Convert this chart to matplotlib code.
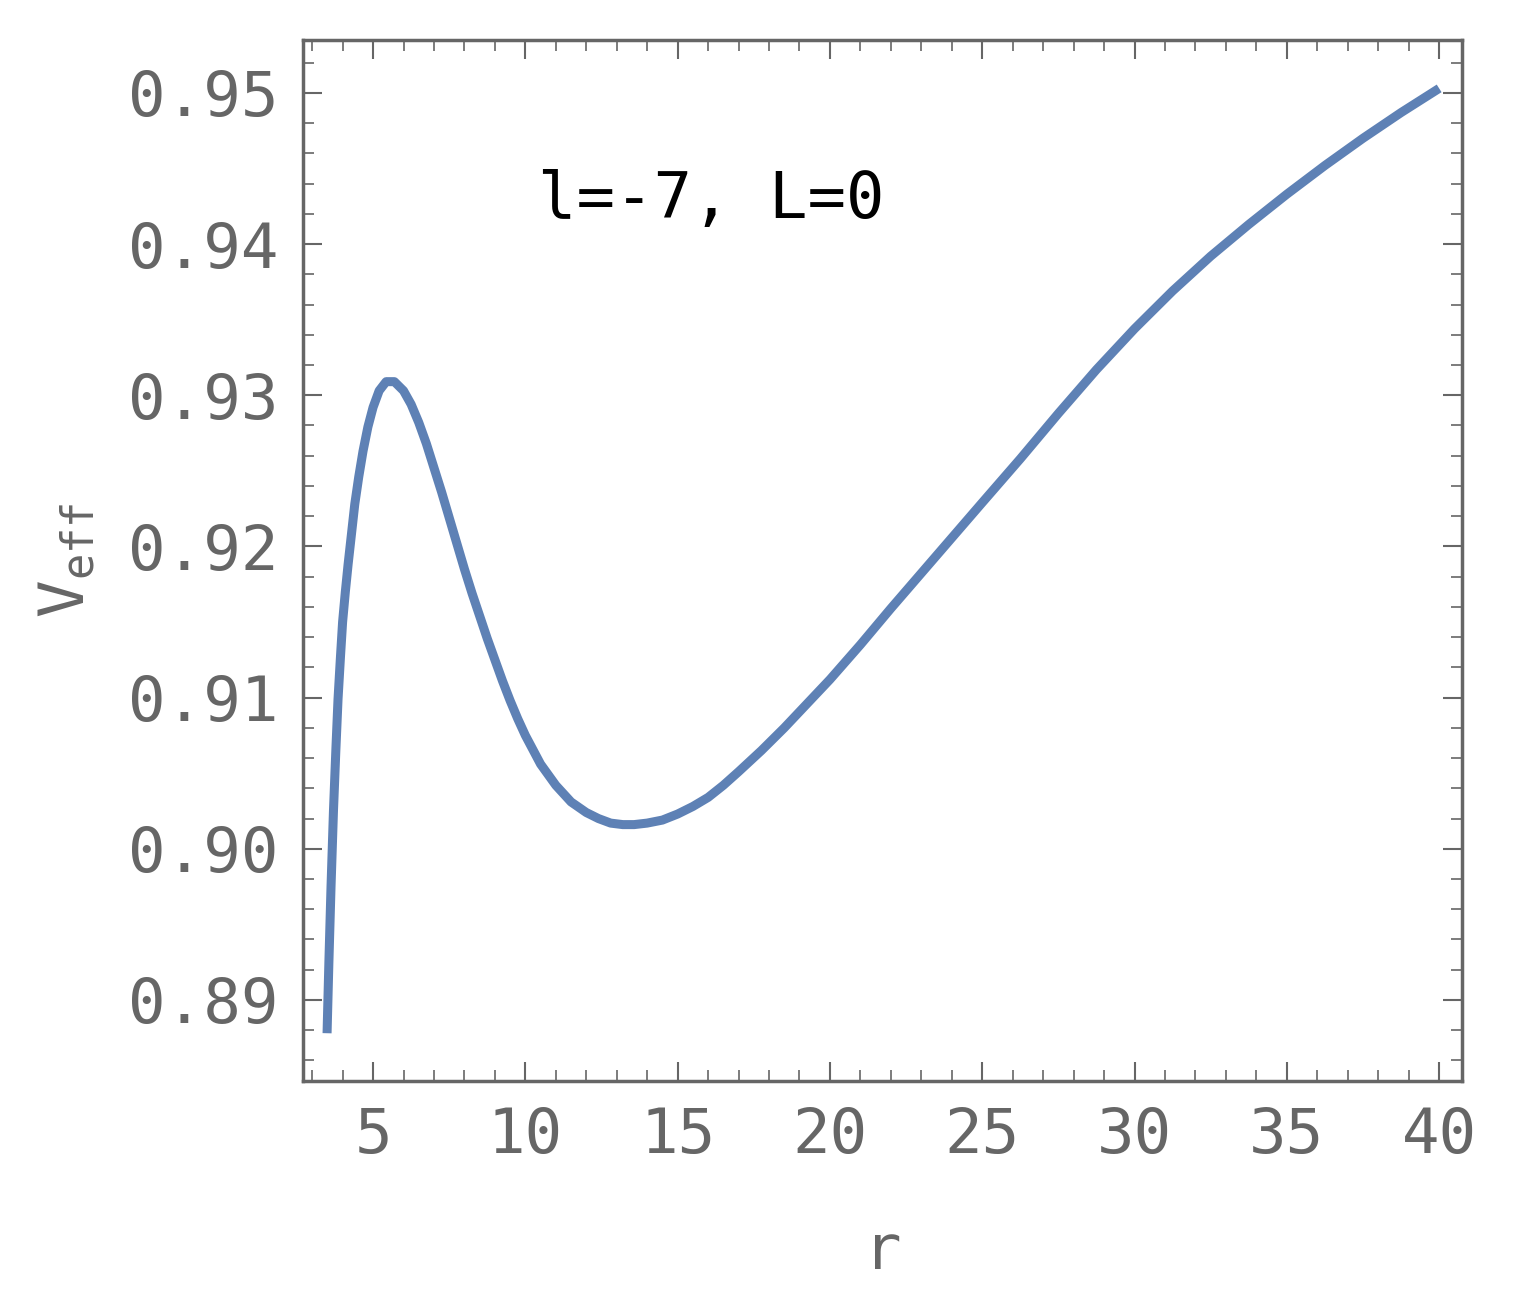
import numpy as np
import matplotlib.pyplot as plt
from matplotlib.ticker import MultipleLocator

# values
r_vals = [3.49, 3.55, 3.62, 3.7, 3.78, 3.85, 3.93, 4.0, 4.09, 4.18, 4.29, 4.4, 4.53, 4.67,
          4.83, 5.0, 5.2, 5.43, 5.7, 6.0, 6.25, 6.5, 6.75, 7.0, 7.25, 7.5, 7.75, 8.0, 8.25,
          8.5, 8.75, 9.0, 9.25, 9.5, 9.75, 10.0, 10.5, 11.0, 11.5, 12.0, 12.4, 12.8, 13.2,
          13.57, 14.0, 14.5, 15.0, 15.5, 16.0, 16.5, 17.0, 17.75, 18.5, 19.25, 20.0, 21.0,
          22.0, 23.5, 25.0, 26.25, 27.5, 28.75, 30.0, 31.25, 32.5, 33.75, 35.0, 36.25, 37.5,
          38.75, 40.0]
v_vals = [0.8878, 0.8925, 0.8975, 0.9025, 0.9066, 0.9099, 0.9127, 0.9150, 0.9170, 0.9188,
          0.9208, 0.9228, 0.9246, 0.9263, 0.9279, 0.9292, 0.9303, 0.9309, 0.9309, 0.9303,
          0.9294, 0.9282, 0.9268, 0.9252, 0.9236, 0.9219, 0.9202, 0.9185, 0.9169, 0.9154,
          0.9139, 0.9125, 0.9111, 0.9098, 0.9086, 0.9075, 0.9056, 0.9042, 0.9031, 0.9024,
          0.9020, 0.9017, 0.9016, 0.9016, 0.9017, 0.9019, 0.9023, 0.9028, 0.9034, 0.9042,
          0.9051, 0.9065, 0.9080, 0.9096, 0.9112, 0.9135, 0.9159, 0.9194, 0.9229, 0.9258,
          0.9288, 0.9317, 0.9344, 0.9369, 0.9392, 0.9413, 0.9433, 0.9452, 0.9470, 0.9487,
          0.9503]

gray = '#666666'
plt.rcParams['font.family'] = ['DejaVu Sans Mono']

fig = plt.figure(figsize=(15.23, 13.07), dpi=100)
ax = fig.add_axes([303/1523, 1-1081/1307, (1462-303)/1523, (1081-40)/1307])
ax.plot(r_vals, v_vals, color='#5E81B5', lw=6.5, solid_capstyle='butt', solid_joinstyle='round')

ax.set_xlim(2.70, 40.75)
ax.set_ylim(0.88464, 0.9535)
ax.xaxis.set_major_locator(MultipleLocator(5))
ax.xaxis.set_minor_locator(MultipleLocator(1))
ax.yaxis.set_major_locator(MultipleLocator(0.01))
ax.yaxis.set_minor_locator(MultipleLocator(0.002))
ax.yaxis.set_major_formatter(plt.FormatStrFormatter('%.2f'))
ax.tick_params(which='both', direction='in', top=True, right=True, color=gray, labelcolor=gray, labelsize=45)
ax.tick_params(which='major', length=14, width=1.5, pad=18)
ax.tick_params(which='minor', length=8, width=1.2)
for s in ax.spines.values():
    s.set_color(gray)
    s.set_linewidth(2.5)

ax.set_xlabel('r', color=gray, fontsize=45, labelpad=40)
ax.set_ylabel(r'$\mathregular{V_{eff}}$', color=gray, fontsize=45, labelpad=22)
ax.text(10.42, 0.9429, 'l=-7, L=0', fontsize=46, color='black', va='center', ha='left')

fig.savefig('out.png', dpi=100)
